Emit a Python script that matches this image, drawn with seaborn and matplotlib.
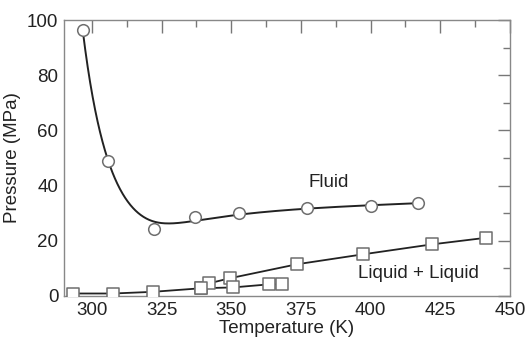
import numpy as np
import pandas as pd
import matplotlib
matplotlib.use("Agg")
import matplotlib.pyplot as plt
import seaborn as sns
from matplotlib.ticker import MultipleLocator

# Fluid (circles)
fluid_T = [296.8, 305.8, 322.3, 337.1, 352.8, 377.2, 400.0, 417.1]
fluid_P = [96.4, 49.0, 24.4, 28.6, 30.2, 31.8, 32.7, 33.6]

# Liquid + Liquid (squares), upper branch
ll_upper_T = [293.4, 307.6, 321.8, 339.2, 342.1, 349.4, 373.6, 397.3, 422.0, 441.5]
ll_upper_P = [0.9, 0.9, 1.5, 2.8, 4.6, 6.4, 11.5, 15.1, 18.7, 21.1]
# Liquid + Liquid, lower branch
ll_lower_T = [339.2, 350.6, 363.4, 368.2]
ll_lower_P = [2.8, 3.1, 4.2, 4.2]

xticks = [300, 325, 350, 375, 400, 425, 450]
yticks = [0, 20, 40, 60, 80, 100]

sns.set_theme(style="white")
plt.rcParams['font.family'] = ['Liberation Sans', 'DejaVu Sans']

fig = plt.figure(figsize=(5.27, 3.38), dpi=100)
ax = fig.add_axes([0.1214, 0.1243, 0.8463, 0.8165])


def smooth(T, P, lam, shift=288.0, N=500):
    """Penalised smoothing curve through the points, in a log-warped T axis."""
    s = np.log(np.array(T) - shift)
    g = np.linspace(s[0], s[-1], N)
    h = g[1] - g[0]
    B = np.zeros((len(s), N))
    for i, si in enumerate(s):
        j = min(int((si - g[0]) / h), N - 2)
        w = (si - g[j]) / h
        B[i, j] = 1 - w
        B[i, j + 1] = w
    D = (np.eye(N)[2:] - 2 * np.eye(N)[1:-1] + np.eye(N)[:-2]) / h**2
    f = np.linalg.solve(B.T @ B + lam * h * D.T @ D, B.T @ np.array(P))
    return np.exp(g) + shift, f


Tg, Pg = smooth(fluid_T, fluid_P, 0.01)
sns.lineplot(x=Tg, y=Pg, ax=ax, color="#222222", lw=1.4, sort=False,
             estimator=None, zorder=2)

line_kw = dict(color="#222222", lw=1.3, sort=False, estimator=None, zorder=2)
sns.lineplot(x=ll_upper_T, y=ll_upper_P, ax=ax, **line_kw)
sns.lineplot(x=ll_lower_T, y=ll_lower_P, ax=ax, **line_kw)

sc_kw = dict(color="white", edgecolor="#6e6e6e", linewidth=1.1, s=70, zorder=3, ax=ax)
sns.scatterplot(x=fluid_T, y=fluid_P, marker="o", **sc_kw)
sns.scatterplot(x=ll_upper_T, y=ll_upper_P, marker="s", **sc_kw)
sns.scatterplot(x=ll_lower_T, y=ll_lower_P, marker="s", **sc_kw)

ax.set_xlim(290, 450)
ax.set_ylim(0, 100)
ax.set_xticks(xticks)
ax.set_yticks(yticks)
ax.xaxis.set_minor_locator(MultipleLocator(12.5))
ax.yaxis.set_minor_locator(MultipleLocator(10))
ax.tick_params(which="both", direction="in", top=True, right=True,
               color="#777777", width=1.0, labelsize=13.5, labelcolor="#222222",
               pad=4)
ax.tick_params(which="major", length=9)
ax.tick_params(which="minor", length=5)
ax.tick_params(axis="both", which="both", labeltop=False, labelright=False)
for s in ax.spines.values():
    s.set_color("#888888")
    s.set_linewidth(1.0)

ax.set_xlabel("Temperature (K)", fontsize=13.5, color="#222222", labelpad=1)
ax.set_ylabel("Pressure (MPa)", fontsize=13.5, color="#222222", labelpad=4)

ax.text(384.9, 41.3, "Fluid", fontsize=13.5, ha="center", va="center", color="#222222")
ax.text(417.3, 8.3, "Liquid + Liquid", fontsize=13.5, ha="center", va="center", color="#222222")

fig.savefig("out.png", dpi=100)
